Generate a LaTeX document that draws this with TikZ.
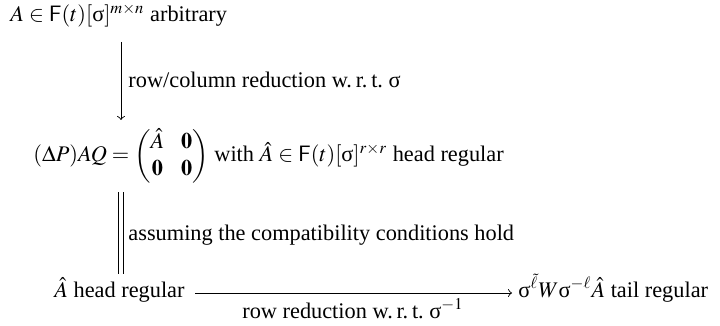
\documentclass[tikz,border=0pt]{standalone}
\usepackage{amsmath}
\usepackage{mathptmx}
\usepackage[no-math]{fontspec}
\setmainfont{Liberation Serif}
\newcommand\usig{\text{σ}}
\begin{document}
\begin{tikzpicture}[x=0.448pt,y=-0.448pt,
  txt/.style={inner sep=0pt, anchor=base west},
  arr/.style={->, line width=0.4pt},
  eq/.style={double, double distance=1.6pt, line width=0.4pt}]
\useasboundingbox (0,0) rectangle (720,326);
\node[txt] (top) at (10,22) {$A\in\mathsf{F}(t)[\usig]^{m\times n}$ arbitrary};
\coordinate (a1) at (121,42);
\coordinate (a2) at (121,120);
\draw[arr] (a1) -- (a2);
\node[txt] (l1) at (128,88) {row/column reduction w.\,r.\,t.~$\usig$};
\node[txt] (mid) at (33,162) {\setlength{\arraycolsep}{3.8pt}$(\Delta P)AQ=\begin{pmatrix}\hat A & \mathbf{0}\\ \mathbf{0} & \mathbf{0}\end{pmatrix}$\ with $\hat A\in\mathsf{F}(t)[\usig]^{r\times r}$ head regular};
\coordinate (d1) at (121,192);
\coordinate (d2) at (121,274);
\draw[eq] (d1) -- (d2);
\node[txt] (l2) at (128,240) {assuming the compatibility conditions hold};
\node[txt, anchor=base east] (bl) at (185,297) {$\hat A$ head regular};
\node[txt] (br) at (518,297) {$\usig^{\tilde\ell}W\usig^{-\ell}\hat A$ tail regular};
\coordinate (b1) at (195,293);
\coordinate (b2) at (512,293);
\draw[arr] (b1) -- (b2);
\node[txt, anchor=base] (l3) at (353,318) {row reduction w.\,r.\,t.~$\usig^{-1}$};
\end{tikzpicture}
\end{document}
